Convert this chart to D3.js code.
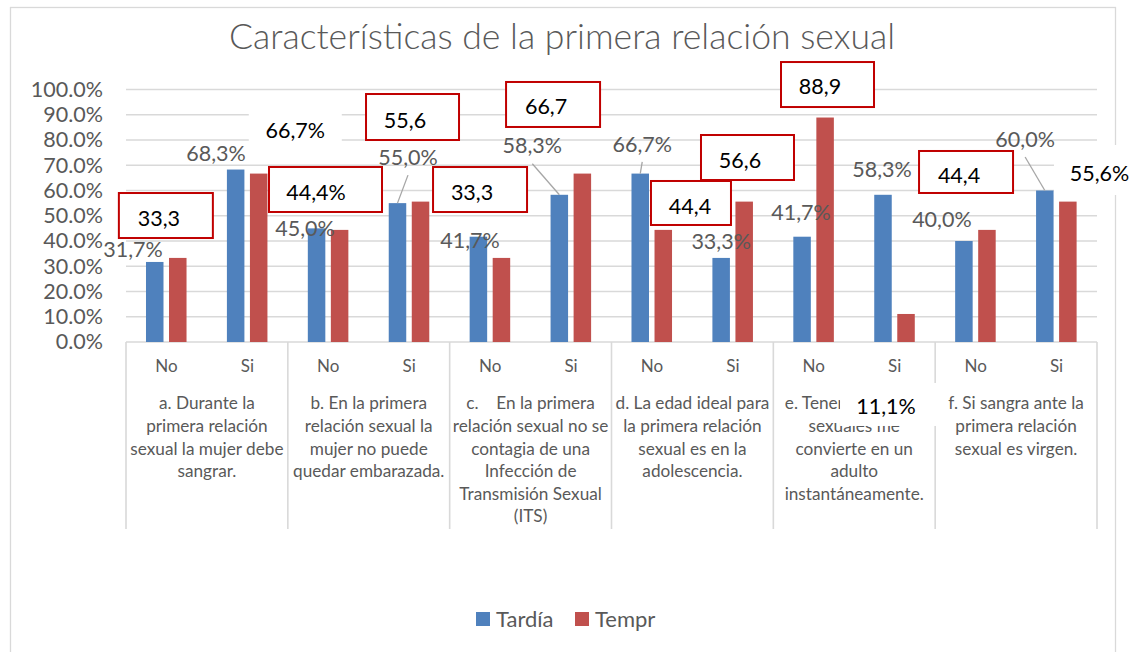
<!DOCTYPE html>
<html>
<head>
<meta charset="utf-8">
<script src="https://cdn.jsdelivr.net/npm/d3@7"></script>
<style>
  html, body { margin: 0; padding: 0; background: #fff; }
  svg { display: block; font-family: Lato, "Open Sans", sans-serif; }
  text { white-space: pre; }
</style>
</head>
<body>
<div id="chart"></div>
<script>
// ---------------- data ----------------
const title = "Características de la primera relación sexual";
const seriesNames = ["Tardía", "Tempr"];
const subcats = ["No", "Si"];
const groupLabels = [
  ["a. Durante la", "primera relación", "sexual la mujer debe", "sangrar."],
  ["b. En la primera", "relación sexual la", "mujer no puede", "quedar embarazada."],
  ["c.    En la primera", "relación sexual no se", "contagia de una", "Infección de", "Transmisión Sexual", "(ITS)"],
  ["d. La edad ideal para", "la primera relación", "sexual es en la", "adolescencia."],
  ["e. Tener relaciones", "sexuales me", "convierte en un", "adulto", "instantáneamente."],
  ["f. Si sangra ante la", "primera relación", "sexual es virgen."]
];
const tardia = [31.7, 68.3, 45.0, 55.0, 41.7, 58.3, 66.7, 33.3, 41.7, 58.3, 40.0, 60.0];
const tempr  = [33.3, 66.7, 44.4, 55.6, 33.3, 66.7, 44.4, 55.6, 88.9, 11.1, 44.4, 55.6];
const temprLabels = ["33,3", "66,7%", "44,4%", "55,6", "33,3", "66,7", "44,4", "56,6", "88,9", "11,1%", "44,4", "55,6%"];
const yTicks = [0, 10, 20, 30, 40, 50, 60, 70, 80, 90, 100];

// ---------------- layout (label offsets, px) ----------------
const blueLayout = [
  {dx: -21.7, dy: -12}, {dx: -19.6, dy: -16.5}, {dx: -11.5, dy: 0}, {dx: 10.5, dy: -46, leader: true},
  {dx: -8.4, dy: 3.3}, {dx: -27, dy: -49, leader: true}, {dx: 2, dy: -29.6, leader: true}, {dx: 0, dy: -16},
  {dx: -1, dy: -24.7}, {dx: -1, dy: -25}, {dx: -22, dy: -22}, {dx: -19.7, dy: -51.5, leader: true}
];
const redLayout = [
  {dx: -18.9, dy: -39.9, bx: 7,   by: -2.5, bw: 94,  bh: 45, boxed: true},
  {dx: 36.6,  dy: -43.6, bx: 0,   by: 0,    bw: 93,  bh: 50, boxed: false},
  {dx: -23.6, dy: -37.9, bx: 9.5, by: -2.5, bw: 113, bh: 45, boxed: true},
  {dx: -15.5, dy: -81.6, bx: 7.5, by: -3,   bw: 93,  bh: 46, boxed: true},
  {dx: -29.4, dy: -65.9, bx: 8,   by: -2.5, bw: 94,  bh: 45, boxed: true},
  {dx: -36.3, dy: -67.6, bx: 7,   by: -1.5, bw: 94,  bh: 45, boxed: true},
  {dx: 26.7,  dy: -23.9, bx: 1,   by: -3,   bw: 80,  bh: 44, boxed: true},
  {dx: -4.2,  dy: -41.6, bx: 7.5, by: -2.5, bw: 93,  bh: 45, boxed: true},
  {dx: -5.1,  dy: -31.5, bx: 7.5, by: -1.5, bw: 93,  bh: 45, boxed: true},
  {dx: -20,   dy: 93,    bx: 3,   by: -2.5, bw: 98,  bh: 43, boxed: false},
  {dx: -27.9, dy: -54.9, bx: 7,   by: -3,   bw: 94,  bh: 42, boxed: true},
  {dx: 31.6,  dy: -28.6, bx: 0,   by: -3,   bw: 91,  bh: 50, boxed: false}
];

const W = 1132, H = 652;
const plot = {left: 126, right: 1097, top: 89.5, bottom: 342};
const colors = {"Tardía": "#4F81BD", "Tempr": "#C0504D"};
const grid = "#D9D9D9", axisText = "#595959";

const categories = [];
groupLabels.forEach((g, gi) => subcats.forEach(s => categories.push(gi + "|" + s)));

const svg = d3.select("#chart").append("svg").attr("width", W).attr("height", H);
svg.append("rect").attr("width", W).attr("height", H).attr("fill", "#fff");
svg.append("rect").attr("x", 10.5).attr("y", 7.5).attr("width", 1105).attr("height", 720)
  .attr("fill", "none").attr("stroke", grid).attr("stroke-width", 1.3);

const x = d3.scaleBand().domain(categories).range([plot.left, plot.right]).padding(0);
const xs = d3.scaleBand().domain(seriesNames).range([x.bandwidth() * 0.247, x.bandwidth() * 0.748]).paddingInner(0.24);
const y = d3.scaleLinear().domain([0, 100]).range([plot.bottom, plot.top]);
const groupX = d3.scaleBand().domain(d3.range(groupLabels.length)).range([plot.left, plot.right]);

// title
svg.append("text").attr("x", 562).attr("y", 48.5).attr("text-anchor", "middle")
  .attr("font-size", 35.6).attr("font-weight", 300).attr("fill", axisText).text(title);

// gridlines
svg.append("g").selectAll("line").data(yTicks.filter(d => d > 0)).join("line")
  .attr("x1", plot.left).attr("x2", plot.right).attr("y1", d => y(d)).attr("y2", d => y(d))
  .attr("stroke", grid).attr("stroke-width", 1.3);

// y axis labels
const yAxis = d3.axisLeft(y).tickValues(yTicks).tickSize(0).tickPadding(0)
  .tickFormat(d => d3.format(".1f")(d) + "%");
const ya = svg.append("g").attr("transform", "translate(103,0)").call(yAxis);
ya.select(".domain").remove();
ya.selectAll("text").attr("font-size", 21.5).attr("fill", axisText).attr("font-family", "Lato, sans-serif");

// x axis baseline and group dividers
svg.append("line").attr("x1", plot.left).attr("x2", plot.right).attr("y1", y(0)).attr("y2", y(0))
  .attr("stroke", grid).attr("stroke-width", 1.3);
const dividers = d3.range(groupLabels.length + 1).map(i => i < groupLabels.length ? groupX(i) : plot.right);
svg.append("g").selectAll("line").data(dividers).join("line")
  .attr("x1", d => d).attr("x2", d => d).attr("y1", y(0)).attr("y2", 529)
  .attr("stroke", grid).attr("stroke-width", 1.6);

// sub-category labels
svg.append("g").selectAll("text").data(categories).join("text")
  .attr("x", d => x(d) + x.bandwidth() / 2).attr("y", 366).attr("dy", "0.35em")
  .attr("text-anchor", "middle").attr("font-size", 17).attr("fill", axisText)
  .text(d => d.split("|")[1]);

// group labels
const gl = svg.append("g").selectAll("text").data(groupLabels).join("text")
  .attr("text-anchor", "middle").attr("font-size", 17.2).attr("fill", axisText);
gl.each(function(lines, gi) {
  d3.select(this).selectAll("tspan").data(lines).join("tspan")
    .attr("x", groupX(gi) + groupX.bandwidth() / 2)
    .attr("y", (d, k) => 403.3 + k * 22.6).attr("dy", "0.35em").text(d => d);
});

// bars
const barData = categories.map((c, i) => ({c, i, vals: [
  {s: "Tardía", v: tardia[i]}, {s: "Tempr", v: tempr[i]}]}));
const bg = svg.append("g").selectAll("g").data(barData).join("g")
  .attr("transform", d => `translate(${x(d.c)},0)`);
bg.selectAll("rect").data(d => d.vals).join("rect")
  .attr("x", d => xs(d.s)).attr("width", xs.bandwidth())
  .attr("y", d => y(d.v)).attr("height", d => y(0) - y(d.v))
  .attr("fill", d => colors[d.s]);

const fmt = v => d3.format(".1f")(v).replace(".", ",") + "%";
const barCx = (i, s) => x(categories[i]) + xs(s) + xs.bandwidth() / 2;

// blue labels + leaders
tardia.forEach((v, i) => {
  const L = blueLayout[i];
  const tx = barCx(i, "Tardía") + L.dx, ty = y(v) + L.dy;
  if (L.leader) {
    svg.append("line").attr("x1", tx).attr("y1", ty + 18)
      .attr("x2", barCx(i, "Tardía")).attr("y2", y(v))
      .attr("stroke", "#A6A6A6").attr("stroke-width", 1.3);
  }
  svg.append("text").attr("x", tx).attr("y", ty).attr("dy", "0.35em").attr("text-anchor", "middle")
    .attr("font-size", 21.5).attr("fill", axisText).text(fmt(v));
});

// red labels
tempr.forEach((v, i) => {
  const L = redLayout[i];
  const tx = barCx(i, "Tempr") + L.dx, ty = y(v) + L.dy;
  svg.append("rect")
    .attr("x", tx + L.bx - L.bw / 2).attr("y", ty + L.by - L.bh / 2)
    .attr("width", L.bw).attr("height", L.bh)
    .attr("fill", "#fff")
    .attr("stroke", L.boxed ? "#C00000" : "none").attr("stroke-width", 2);
  svg.append("text").attr("x", tx).attr("y", ty).attr("dy", "0.35em").attr("text-anchor", "middle")
    .attr("font-size", 21.5).attr("fill", "#000").text(temprLabels[i]);
});

// legend
const lg = svg.append("g").selectAll("g").data(seriesNames).join("g")
  .attr("transform", (d, i) => `translate(${i === 0 ? 476 : 575},612)`);
lg.append("rect").attr("width", 14).attr("height", 14).attr("fill", d => colors[d]);
lg.append("text").attr("x", 20).attr("y", 7).attr("dy", "0.35em")
  .attr("font-size", 22).attr("fill", axisText).text(d => d);
</script>
</body>
</html>
